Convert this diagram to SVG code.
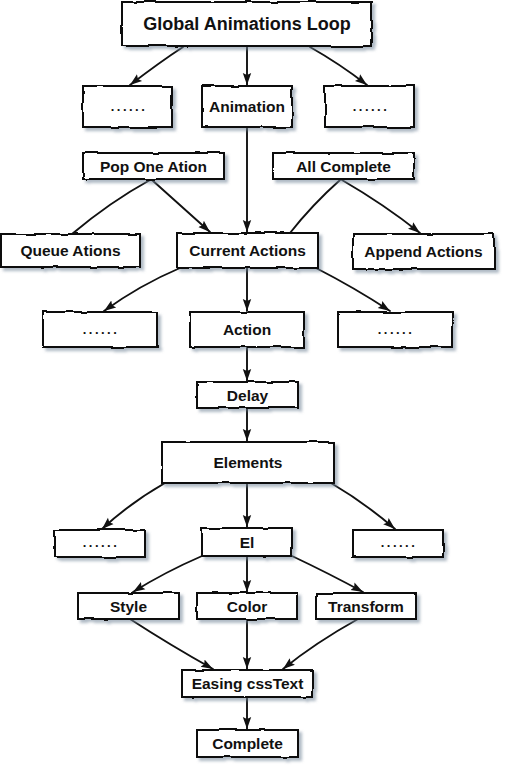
<svg xmlns="http://www.w3.org/2000/svg" width="505" height="768" viewBox="0 0 505 768">
<defs>
<filter id="sk" x="-10%" y="-25%" width="125%" height="160%">
<feTurbulence type="fractalNoise" baseFrequency="0.05" numOctaves="2" seed="4" result="n"/>
<feDisplacementMap in="SourceGraphic" in2="n" scale="3" xChannelSelector="R" yChannelSelector="G" result="d"/>
<feGaussianBlur in="d" stdDeviation="1.4" result="b"/>
<feOffset in="b" dx="2.5" dy="2.5" result="o"/>
<feFlood flood-color="#6f8296" flood-opacity="0.55"/>
<feComposite in2="o" operator="in" result="s"/>
<feMerge><feMergeNode in="s"/><feMergeNode in="d"/></feMerge>
</filter>
<marker id="ah" markerWidth="12" markerHeight="12" viewBox="0 0 12 12" refX="12" refY="6" orient="auto" markerUnits="userSpaceOnUse">
<path d="M0,1.8 L12,6 L0,10.2 L2,6 z" fill="#111"/>
</marker>
<style>
.box{fill:#fff;stroke:#111;stroke-width:2;filter:url(#sk)}
.t{font-family:"Liberation Sans",Arial,sans-serif;font-weight:bold;font-size:15.5px;fill:#111;text-anchor:middle;dominant-baseline:central}
.big{font-size:18px}
.dots{font-size:13px;letter-spacing:2.5px}
.c path{fill:none;stroke:#111;stroke-width:1.9;stroke-linecap:round}
.c path.a{marker-end:url(#ah)}
</style>
</defs>
<rect width="505" height="768" fill="#fff"/>
<g class="c" id="connectors">
<path class="a" d="M183,47 Q160,62 130,85"/>
<path class="a" d="M247,47 L247,85"/>
<path class="a" d="M310,47 Q340,64 367,85"/>
<path class="a" d="M247,127 L247,232"/>
<path d="M150,180 Q110,202 72,234"/>
<path class="a" d="M152,180 L210,232"/>
<path d="M340,180 Q312,205 290,233"/>
<path class="a" d="M342,180 Q385,205 420,233"/>
<path class="a" d="M180,268 Q140,285 104,311"/>
<path class="a" d="M247,268 L247,311"/>
<path class="a" d="M316,268 Q355,288 390,311"/>
<path class="a" d="M247,347 L247,381"/>
<path class="a" d="M247,408 L247,441"/>
<path class="a" d="M165,483 Q130,503 102,529"/>
<path class="a" d="M247,483 L247,527"/>
<path class="a" d="M331,483 Q365,503 395,529"/>
<path class="a" d="M202,556 Q165,572 133,592"/>
<path class="a" d="M247,556 L247,592"/>
<path class="a" d="M292,556 Q330,574 363,592"/>
<path class="a" d="M130,619 Q170,645 213,669"/>
<path class="a" d="M247,619 L247,669"/>
<path class="a" d="M358,619 Q315,643 283,669"/>
<path class="a" d="M247,697 L247,729"/>
</g>
<g id="global"><rect class="box" x="122" y="2" width="250" height="44"/><text class="t big" x="247" y="24">Global Animations Loop</text></g>
<g id="dotsA1"><rect class="box" x="83" y="86" width="89" height="41"/><text class="t dots" x="129" y="106">......</text></g>
<g id="animation"><rect class="box" x="202" y="86" width="90" height="41"/><text class="t" x="247" y="106.5">Animation</text></g>
<g id="dotsA2"><rect class="box" x="325" y="86" width="89" height="41"/><text class="t dots" x="371" y="106">......</text></g>
<g id="pop"><rect class="box" x="83" y="153" width="141" height="26"/><text class="t" x="153.5" y="166">Pop One Ation</text></g>
<g id="allcomplete"><rect class="box" x="273" y="153" width="141" height="26"/><text class="t" x="343.5" y="166">All Complete</text></g>
<g id="queue"><rect class="box" x="1" y="234" width="139" height="33"/><text class="t" x="70.5" y="250.5">Queue Ations</text></g>
<g id="current"><rect class="box" x="177" y="233" width="141" height="35"/><text class="t" x="247.5" y="250.5">Current Actions</text></g>
<g id="append"><rect class="box" x="353" y="234" width="141" height="35"/><text class="t" x="423.5" y="251.5">Append Actions</text></g>
<g id="dotsB1"><rect class="box" x="43" y="312" width="114" height="35"/><text class="t dots" x="101" y="329">......</text></g>
<g id="action"><rect class="box" x="190" y="312" width="114" height="35"/><text class="t" x="247" y="329.5">Action</text></g>
<g id="dotsB2"><rect class="box" x="338" y="312" width="114" height="35"/><text class="t dots" x="396" y="329">......</text></g>
<g id="delay"><rect class="box" x="197" y="382" width="101" height="26"/><text class="t" x="247.5" y="395">Delay</text></g>
<g id="elements"><rect class="box" x="162" y="442" width="172" height="41"/><text class="t" x="248" y="462.5">Elements</text></g>
<g id="dotsC1"><rect class="box" x="55" y="530" width="90" height="27"/><text class="t dots" x="101" y="542">......</text></g>
<g id="el"><rect class="box" x="202" y="528" width="90" height="28"/><text class="t" x="247" y="542">El</text></g>
<g id="dotsC2"><rect class="box" x="353" y="530" width="90" height="27"/><text class="t dots" x="399" y="542">......</text></g>
<g id="style"><rect class="box" x="78" y="593" width="101" height="26"/><text class="t" x="128.5" y="606">Style</text></g>
<g id="color"><rect class="box" x="197" y="593" width="100" height="26"/><text class="t" x="247" y="606">Color</text></g>
<g id="transform"><rect class="box" x="316" y="593" width="100" height="26"/><text class="t" x="366" y="606">Transform</text></g>
<g id="easing"><rect class="box" x="182" y="670" width="131" height="27"/><text class="t" x="247.5" y="683.5">Easing cssText</text></g>
<g id="complete"><rect class="box" x="197" y="730" width="101" height="27"/><text class="t" x="247.5" y="743.5">Complete</text></g>
</svg>
